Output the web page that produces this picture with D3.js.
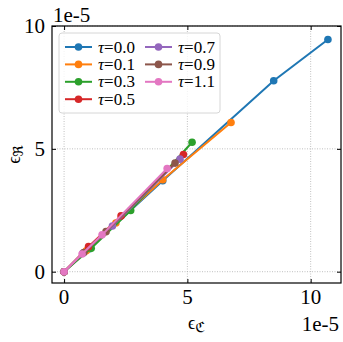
<!DOCTYPE html>
<html>
<head>
<meta charset="utf-8">
<script src="https://cdn.jsdelivr.net/npm/d3@7"></script>
</head>
<body style="margin:0">
<script>
/* CONSTANTS AND GLOBALS */
const width = 343, height = 342,
  margin = { top: 26, right: 2, bottom: 59, left: 52 };
const serif = "'Liberation Serif', 'Times New Roman', serif";

// data, in units of 1e-5
const taus = ["0.0", "0.1", "0.3", "0.5", "0.7", "0.9", "1.1"];
const colors = ["#1f77b4", "#ff7f0e", "#2ca02c", "#d62728", "#9467bd", "#8c564b", "#e377c2"];
const xVals = [
  [0, 1.0, 4.0, 8.5, 10.7],
  [0, 0.9, 2.1, 4.0, 6.77],
  [0, 1.1, 2.7, 5.19],
  [0, 0.99, 2.31, 4.84],
  [0, 0.76, 1.96, 4.70],
  [0, 0.80, 1.70, 4.50],
  [0, 0.73, 1.54, 4.18]
];
const yVals = [
  [0, 0.92, 3.70, 7.77, 9.45],
  [0, 0.85, 1.98, 3.74, 6.07],
  [0, 0.95, 2.49, 5.27],
  [0, 1.02, 2.27, 4.77],
  [0, 0.75, 1.86, 4.58],
  [0, 0.78, 1.63, 4.42],
  [0, 0.72, 1.50, 4.20]
];
const ticks = [0, 5, 10];

const x = d3.scaleLinear().domain([-0.49, 11.23]).range([margin.left, width - margin.right]);
const y = d3.scaleLinear().domain([-0.46, 10.0]).range([height - margin.bottom, margin.top]);

function draw() {
  d3.select("body").selectAll("svg").remove();
  const svg = d3.select("body").append("svg")
    .attr("width", width)
    .attr("height", height);

  // GRID
  svg.append("g").selectAll("line")
    .data(ticks)
    .join("line")
    .attr("x1", d => x(d)).attr("x2", d => x(d))
    .attr("y1", margin.top).attr("y2", height - margin.bottom)
    .attr("stroke", "#b0b0b0").attr("stroke-width", 0.8).attr("stroke-dasharray", "1,1.5");
  svg.append("g").selectAll("line")
    .data(ticks)
    .join("line")
    .attr("y1", d => y(d)).attr("y2", d => y(d))
    .attr("x1", margin.left).attr("x2", width - margin.right)
    .attr("stroke", "#b0b0b0").attr("stroke-width", 0.8).attr("stroke-dasharray", "1,1.5");

  // inward tick marks on all four sides
  svg.append("g")
    .attr("transform", `translate(0,${height - margin.bottom})`)
    .call(d3.axisBottom(x).tickValues(ticks).tickSize(-4).tickFormat(""))
    .call(g => g.select(".domain").remove());
  svg.append("g")
    .attr("transform", `translate(${margin.left},0)`)
    .call(d3.axisLeft(y).tickValues(ticks).tickSize(-4).tickFormat(""))
    .call(g => g.select(".domain").remove());
  svg.append("g")
    .attr("transform", `translate(0,${margin.top})`)
    .call(d3.axisTop(x).tickValues(ticks).tickSize(-4).tickFormat(""))
    .call(g => g.select(".domain").remove());
  svg.append("g")
    .attr("transform", `translate(${width - margin.right},0)`)
    .call(d3.axisRight(y).tickValues(ticks).tickSize(-4).tickFormat(""))
    .call(g => g.select(".domain").remove());

  // tick labels
  svg.selectAll("text.xt")
    .data(ticks)
    .join("text")
    .attr("class", "xt")
    .attr("x", d => x(d)).attr("y", height - margin.bottom + 21)
    .attr("text-anchor", "middle").attr("font-size", 21)
    .style("font-family", serif)
    .text(d => d);
  svg.selectAll("text.yt")
    .data(ticks)
    .join("text")
    .attr("class", "yt")
    .attr("x", margin.left - 7).attr("y", d => y(d) + 7)
    .attr("text-anchor", "end").attr("font-size", 21)
    .style("font-family", serif)
    .text(d => d);

  // SERIES
  const line = d3.line().x(d => x(d[0])).y(d => y(d[1]));
  taus.forEach((t, i) => {
    const pts = xVals[i].map((v, j) => [v, yVals[i][j]]);
    const g = svg.append("g");
    g.append("path")
      .datum(pts)
      .attr("d", line)
      .attr("fill", "none")
      .attr("stroke", colors[i])
      .attr("stroke-width", 2);
    g.selectAll("circle")
      .data(pts)
      .join("circle")
      .attr("cx", d => x(d[0]))
      .attr("cy", d => y(d[1]))
      .attr("r", 3.8)
      .attr("fill", colors[i]);
  });

  // FRAME
  svg.append("rect")
    .attr("x", margin.left).attr("y", margin.top)
    .attr("width", width - margin.left - margin.right)
    .attr("height", height - margin.top - margin.bottom)
    .attr("fill", "none").attr("stroke", "#000").attr("stroke-width", 1.2);

  // OFFSET TEXT
  svg.selectAll("text.off")
    .data([[margin.left + 1, 22, "start"], [width - margin.right - 2, 331, "end"]])
    .join("text")
    .attr("class", "off")
    .attr("x", d => d[0]).attr("y", d => d[1])
    .attr("text-anchor", d => d[2]).attr("font-size", 21)
    .style("font-family", serif)
    .text("1e-5");

  // AXIS LABELS
  const xl = svg.append("text")
    .attr("x", (margin.left + width - margin.right) / 2)
    .attr("y", 329)
    .attr("text-anchor", "middle")
    .attr("font-size", 18)
    .style("font-family", serif);
  xl.append("tspan").text("\u03F5");
  xl.append("tspan").style("font-family", "'DejaVu Sans'").attr("font-size", 14).attr("dy", 3).text("\u212D");

  const yl = svg.append("text")
    .attr("transform", `translate(20,${(margin.top + height - margin.bottom) / 2}) rotate(-90)`)
    .attr("text-anchor", "middle")
    .attr("font-size", 18)
    .style("font-family", serif);
  yl.append("tspan").text("\u03F5");
  yl.append("tspan").style("font-family", "'DejaVu Sans'").attr("font-size", 14).attr("dy", 3).text("\u211C");

  // LEGEND
  const legend = svg.append("g");
  legend.append("rect")
    .attr("x", 59).attr("y", 33).attr("width", 161).attr("height", 80)
    .attr("rx", 3)
    .attr("fill", "#fff").attr("fill-opacity", 0.8)
    .attr("stroke", "#d6d6d6").attr("stroke-width", 1);
  const rowH = 17.4;
  const pos = taus.map((t, i) => {
    const col = i < 4 ? 0 : 1, row = i < 4 ? i : i - 4;
    return [65 + col * 80, 47 + row * rowH];
  });
  legend.selectAll("line")
    .data(taus)
    .join("line")
    .attr("x1", (d, i) => pos[i][0]).attr("x2", (d, i) => pos[i][0] + 27)
    .attr("y1", (d, i) => pos[i][1]).attr("y2", (d, i) => pos[i][1])
    .attr("stroke", (d, i) => colors[i]).attr("stroke-width", 2);
  legend.selectAll("circle")
    .data(taus)
    .join("circle")
    .attr("cx", (d, i) => pos[i][0] + 13.5).attr("cy", (d, i) => pos[i][1])
    .attr("r", 3.8).attr("fill", (d, i) => colors[i]);
  const lt = legend.selectAll("text")
    .data(taus)
    .join("text")
    .attr("x", (d, i) => pos[i][0] + 33).attr("y", (d, i) => pos[i][1] + 5.5)
    .attr("font-size", 17)
    .style("font-family", serif);
  lt.append("tspan").style("font-style", "italic").text("\u03C4");
  lt.append("tspan").text(d => "=" + d);
}

draw();
// redraw once the serif face is ready, in case it loads late
if (document.fonts && document.fonts.load) {
  document.fonts.load("21px 'Liberation Serif'").then(draw).catch(() => {});
}
setTimeout(draw, 150);
</script>
</body>
</html>
